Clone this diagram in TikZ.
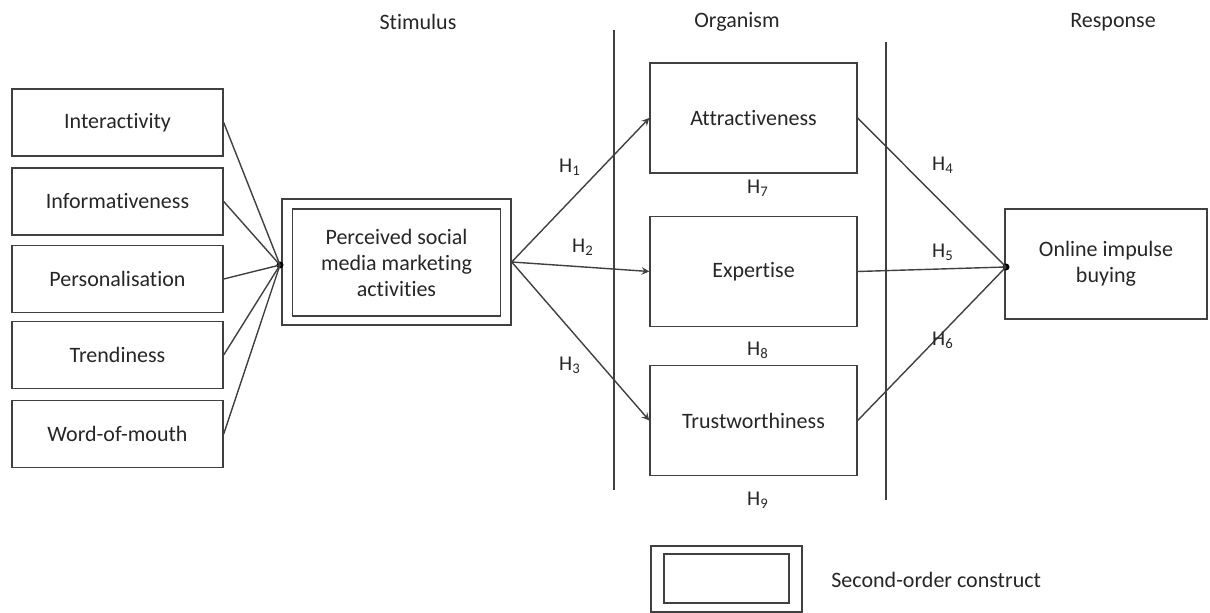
\documentclass[tikz,border=0pt]{standalone}
\usepackage{fontspec}
\setmainfont{Carlito}[Ligatures=NoCommon]
\begin{document}
\begin{tikzpicture}[x=0.5pt, y=-0.5pt, line width=0.7pt, draw=black!75,
    every node/.style={font=\fontsize{11}{13}\selectfont, text=black!85},
    box/.style={draw=black!75, align=center, inner sep=0pt},
    dot/.style={circle, fill=black, inner sep=0pt, minimum size=3.5pt},
    hyp/.style={font=\fontsize{10.5}{12}\selectfont}]
    \useasboundingbox (0,0) rectangle (1210,613);
    % headers
    \node (stim) at (418,22) {Stimulus};
    \node (org) at (737,22) {Organism};
    \node (resp) at (1113,22) {Response};
    % first-order constructs
    \foreach \y/\nm/\txt in {122.5/inter/Interactivity, 201.5/info/Informativeness,
        279/pers/Personalisation, 355/trend/Trendiness, 434/wom/Word-of-mouth}{
        \node[box, minimum width=105.5pt, minimum height=33.5pt] (\nm) at (117.5,\y) {\txt};
    }
    % second-order construct
    \node[box, minimum width=104pt, minimum height=53.5pt] (psmm) at (396.5,262.5)
        {Perceived social\\media marketing\\activities};
    \node[box, minimum width=114.5pt, minimum height=63pt] (psmmout) at (396.5,262) {};
    \node[dot] (sdot) at (280,265) {};
    \foreach \nm in {inter,info,pers,trend,wom}{
        \draw (\nm.east) -- (sdot.center);
    }
    % organism
    \node[box, minimum width=103.5pt, minimum height=55pt] (attr) at (753.5,118) {Attractiveness};
    \node[box, minimum width=103.5pt, minimum height=55pt] (exp) at (753.5,271.5) {Expertise};
    \node[box, minimum width=103.5pt, minimum height=55pt] (trust) at (753.5,420.5) {Trustworthiness};
    \coordinate (la) at (614,30);
    \coordinate (lb) at (614,490);
    \coordinate (ra) at (886,42);
    \coordinate (rb) at (886,500);
    \draw (la) -- (lb);
    \draw (ra) -- (rb);
    \draw[-stealth] (psmmout.east) -- (attr.west);
    \draw[-stealth] (psmmout.east) -- (exp.west);
    \draw[-stealth] (psmmout.east) -- (trust.west);
    % response
    \node[box, minimum width=101pt, minimum height=55pt] (oib) at (1106,264) {Online impulse\\buying};
    \node[dot] (rdot) at (1006,267) {};
    \draw (attr.east) -- (rdot.center);
    \draw (exp.east) -- (rdot.center);
    \draw (trust.east) -- (rdot.center);
    % hypotheses
    \node[hyp] (h1) at (570,167) {H\textsubscript{1}};
    \node[hyp] (h2) at (583,247) {H\textsubscript{2}};
    \node[hyp] (h3) at (570,365) {H\textsubscript{3}};
    \node[hyp] (h4) at (943,165) {H\textsubscript{4}};
    \node[hyp] (h5) at (943,252) {H\textsubscript{5}};
    \node[hyp] (h6) at (943,340) {H\textsubscript{6}};
    \node[hyp] (h7) at (758,188) {H\textsubscript{7}};
    \node[hyp] (h8) at (758,350) {H\textsubscript{8}};
    \node[hyp] (h9) at (758,500) {H\textsubscript{9}};
    % legend
    \node[box, minimum width=75.5pt, minimum height=33pt] (legout) at (726.5,579) {};
    \node[box, minimum width=62.5pt, minimum height=24.5pt] (legin) at (726.5,578.5) {};
    \node[anchor=west] (legtxt) at (824,580) {Second-order construct};
\end{tikzpicture}
\end{document}
